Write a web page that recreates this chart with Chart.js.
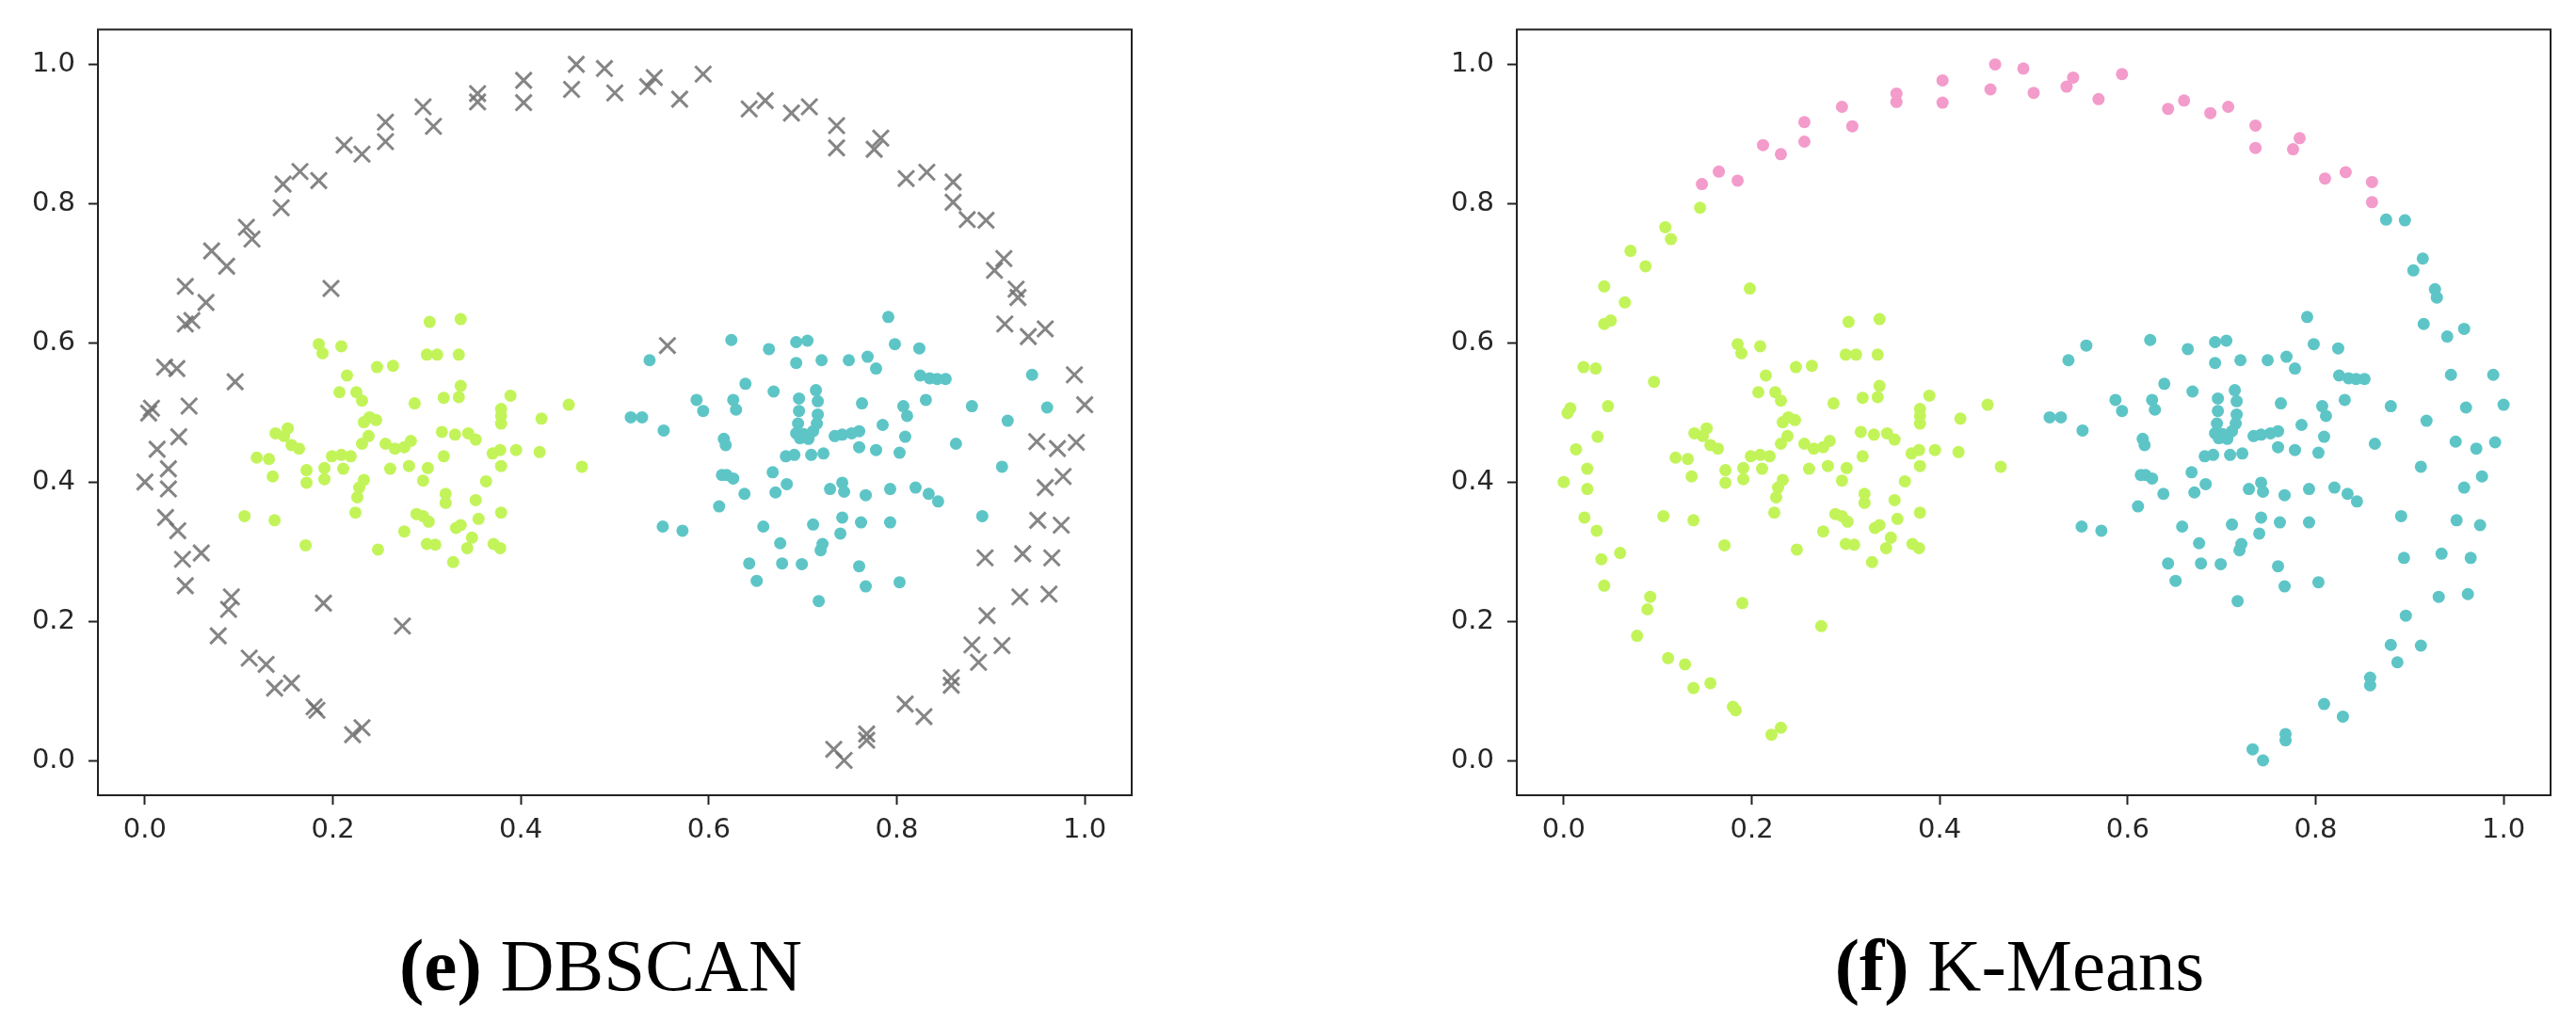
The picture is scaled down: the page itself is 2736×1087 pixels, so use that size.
<!DOCTYPE html>
<html>
<head>
<meta charset="utf-8">
<script src="https://cdn.jsdelivr.net/npm/chart.js@4.4.1/dist/chart.umd.min.js"></script>
<style>
  html, body { margin: 0; background: #fff; overflow: hidden; }
  #page { position: relative; width: 2736px; height: 1087px; }
  .panel { position: absolute; top: 0; }
  .cap {
    position: absolute; top: 986px; transform: translateX(-50%);
    font-family: "Liberation Serif", serif; font-size: 79px; line-height: 79px;
    color: #000; white-space: nowrap;
  }
  .cap b { font-weight: bold; }
</style>
</head>
<body>
<div id="page">
  <canvas id="dbscan" class="panel" width="1229" height="900" style="left:0px"></canvas>
  <canvas id="kmeans" class="panel" width="1229" height="900" style="left:1507px"></canvas>
  <div class="cap" style="left:638px"><b>(e)</b> DBSCAN</div>
  <div class="cap" style="left:2145px"><b>(f)</b> K-Means</div>
</div>
<script>
// tick values
const xTicks = [0.0, 0.2, 0.4, 0.6, 0.8, 1.0];
const yTicks = [0.0, 0.2, 0.4, 0.6, 0.8, 1.0];

// outer ring, left / lower-left part (DBSCAN noise, K-Means green)
const arcLeft = [
  [0.221,0.037],[0.231,0.047],[0.180,0.077],[0.183,0.072],[0.138,0.104],[0.156,0.111],
  [0.111,0.147],[0.129,0.138],[0.078,0.179],[0.092,0.235],[0.089,0.217],[0.043,0.251],
  [0.040,0.289],[0.060,0.298],[0.022,0.349],[0.035,0.330],[0.000,0.400],[0.025,0.419],
  [0.025,0.390],[0.013,0.447],[0.036,0.465],[0.007,0.506],[0.004,0.499],[0.047,0.509],
  [0.096,0.544],[0.021,0.565],[0.034,0.563],[0.043,0.627],[0.050,0.632],[0.065,0.658],
  [0.043,0.681],[0.087,0.710],[0.071,0.732],[0.114,0.749],[0.108,0.766],[0.145,0.794],
  [0.198,0.678],[0.190,0.226],[0.274,0.193]
];

// outer ring, top part (DBSCAN noise, K-Means pink)
const arcTop = [
  [0.147,0.828],[0.165,0.846],[0.185,0.833],[0.212,0.884],[0.231,0.871],[0.256,0.917],
  [0.256,0.889],[0.296,0.939],[0.307,0.911],[0.354,0.958],[0.354,0.946],[0.403,0.977],
  [0.403,0.945],[0.459,1.000],[0.454,0.964],[0.489,0.994],[0.500,0.959],[0.542,0.981],
  [0.535,0.968],[0.569,0.950],[0.594,0.986],[0.643,0.936],[0.660,0.948],[0.688,0.930],
  [0.707,0.939],[0.736,0.912],[0.736,0.880],[0.783,0.894],[0.776,0.878],[0.810,0.836],
  [0.832,0.845],[0.860,0.831],[0.860,0.802]
];

// outer ring, right / lower-right part (DBSCAN noise, K-Means teal)
const arcRight = [
  [0.875,0.777],[0.895,0.776],[0.914,0.721],[0.904,0.704],[0.927,0.677],[0.929,0.665],
  [0.915,0.627],[0.940,0.609],[0.958,0.620],[0.989,0.554],[1.000,0.511],[0.949,0.458],
  [0.971,0.448],[0.991,0.457],[0.958,0.392],[0.977,0.408],[0.950,0.345],[0.975,0.338],
  [0.894,0.291],[0.934,0.297],[0.965,0.291],[0.931,0.235],[0.962,0.239],[0.896,0.208],
  [0.880,0.166],[0.912,0.165],[0.887,0.141],[0.858,0.119],[0.858,0.108],[0.809,0.081],
  [0.829,0.063],[0.768,0.038],[0.768,0.029],[0.733,0.016],[0.744,0.000],[0.556,0.596]
];

// left blob
const blobLeft = [
  [0.303,0.630],[0.336,0.634],[0.185,0.598],[0.189,0.585],[0.209,0.595],[0.300,0.583],
  [0.311,0.583],[0.334,0.583],[0.247,0.565],[0.264,0.567],[0.215,0.553],[0.336,0.538],
  [0.334,0.522],[0.318,0.521],[0.287,0.513],[0.389,0.524],[0.451,0.511],[0.379,0.505],
  [0.379,0.495],[0.379,0.484],[0.422,0.491],[0.207,0.529],[0.225,0.529],[0.231,0.517],
  [0.233,0.486],[0.239,0.493],[0.246,0.489],[0.139,0.470],[0.148,0.466],[0.152,0.477],
  [0.156,0.453],[0.164,0.448],[0.119,0.435],[0.132,0.433],[0.136,0.408],[0.172,0.417],
  [0.172,0.399],[0.191,0.420],[0.191,0.404],[0.199,0.437],[0.209,0.439],[0.219,0.437],
  [0.211,0.419],[0.238,0.466],[0.231,0.455],[0.256,0.455],[0.266,0.448],[0.276,0.450],
  [0.283,0.459],[0.261,0.419],[0.281,0.423],[0.233,0.403],[0.228,0.392],[0.226,0.378],
  [0.224,0.356],[0.296,0.402],[0.301,0.420],[0.316,0.472],[0.318,0.437],[0.320,0.383],
  [0.320,0.370],[0.289,0.354],[0.296,0.351],[0.302,0.343],[0.276,0.329],[0.300,0.311],
  [0.309,0.310],[0.248,0.303],[0.171,0.309],[0.106,0.351],[0.138,0.345],[0.330,0.468],
  [0.344,0.470],[0.352,0.461],[0.370,0.441],[0.378,0.446],[0.395,0.446],[0.420,0.443],
  [0.465,0.422],[0.379,0.423],[0.363,0.401],[0.352,0.374],[0.355,0.347],[0.379,0.356],
  [0.331,0.334],[0.336,0.338],[0.348,0.320],[0.343,0.305],[0.371,0.311],[0.378,0.305],
  [0.328,0.285]
];

// right blob
const blobRight = [
  [0.537,0.575],[0.624,0.604],[0.664,0.591],[0.693,0.601],[0.705,0.603],[0.693,0.571],
  [0.639,0.541],[0.669,0.530],[0.587,0.518],[0.594,0.502],[0.626,0.518],[0.629,0.504],
  [0.517,0.493],[0.529,0.493],[0.696,0.520],[0.696,0.502],[0.791,0.637],[0.798,0.598],
  [0.824,0.592],[0.720,0.575],[0.749,0.575],[0.769,0.580],[0.778,0.563],[0.825,0.553],
  [0.835,0.549],[0.843,0.548],[0.852,0.548],[0.944,0.554],[0.714,0.532],[0.716,0.516],
  [0.716,0.497],[0.763,0.513],[0.807,0.509],[0.811,0.495],[0.831,0.518],[0.880,0.509],
  [0.960,0.507],[0.918,0.488],[0.552,0.474],[0.616,0.462],[0.618,0.453],[0.695,0.484],
  [0.715,0.484],[0.693,0.470],[0.701,0.469],[0.711,0.473],[0.697,0.463],[0.706,0.462],
  [0.734,0.466],[0.742,0.468],[0.752,0.470],[0.760,0.473],[0.760,0.450],[0.785,0.482],
  [0.809,0.465],[0.803,0.442],[0.778,0.446],[0.863,0.455],[0.912,0.422],[0.682,0.437],
  [0.691,0.439],[0.709,0.439],[0.722,0.441],[0.614,0.410],[0.619,0.410],[0.626,0.405],
  [0.668,0.414],[0.683,0.397],[0.671,0.385],[0.638,0.383],[0.611,0.365],[0.729,0.390],
  [0.742,0.399],[0.744,0.386],[0.767,0.381],[0.793,0.390],[0.820,0.392],[0.834,0.383],
  [0.844,0.372],[0.891,0.351],[0.551,0.336],[0.572,0.330],[0.658,0.336],[0.711,0.339],
  [0.742,0.349],[0.740,0.326],[0.762,0.342],[0.793,0.342],[0.676,0.312],[0.721,0.311],
  [0.719,0.302],[0.643,0.283],[0.678,0.283],[0.699,0.282],[0.760,0.279],[0.651,0.258],
  [0.767,0.250],[0.803,0.256],[0.717,0.229]
];

const GREEN = '#c2f45a';
const TEAL = '#5ec5c7';
const PINK = '#f39bcb';
const GREY = 'rgba(112,112,112,0.85)';

const toPts = arr => arr.map(p => ({x: p[0], y: p[1]}));

function dots(points, color) {
  return {
    data: toPts(points),
    pointStyle: 'circle',
    pointRadius: 6.5,
    pointBorderWidth: 0,
    pointBackgroundColor: color,
    pointBorderColor: color
  };
}

function crosses(points) {
  return {
    data: toPts(points),
    pointStyle: 'crossRot',
    pointRadius: 12,
    pointBorderWidth: 3,
    pointBorderColor: GREY,
    pointBackgroundColor: GREY
  };
}

// axes frame on all four sides
const frame = {
  id: 'frame',
  afterDatasetsDraw(chart) {
    const {ctx, chartArea: a} = chart;
    ctx.save();
    ctx.strokeStyle = '#222';
    ctx.lineWidth = 2;
    ctx.strokeRect(a.left, a.top, a.right - a.left, a.bottom - a.top);
    ctx.restore();
  }
};

function axis(ticksArr, fit) {
  return {
    type: 'linear',
    min: -0.05,
    max: 1.05,
    afterFit: fit,
    afterBuildTicks(s) { s.ticks = ticksArr.map(v => ({value: v})); },
    grid: {drawOnChartArea: false, tickLength: 10, tickColor: '#222', tickWidth: 2},
    border: {display: false},
    ticks: {
      padding: 10,
      color: '#262626',
      autoSkip: false,
      maxRotation: 0,
      font: {family: 'DejaVu Sans', size: 29},
      callback: v => Number(v).toFixed(1)
    }
  };
}

function makeChart(id, datasets) {
  const x = axis(xTicks, s => { s.height = 55; });
  const y = axis(yTicks, s => { s.width = 104; });
  y.ticks.padding = 14;
  return new Chart(document.getElementById(id), {
    type: 'scatter',
    data: {datasets: datasets},
    options: {
      responsive: false,
      animation: false,
      devicePixelRatio: 1,
      layout: {padding: {top: 28, right: 27, left: 0, bottom: 0}},
      plugins: {legend: {display: false}, tooltip: {enabled: false}},
      scales: {x: x, y: y}
    },
    plugins: [frame]
  });
}

makeChart('dbscan', [
  crosses(arcLeft.concat(arcTop, arcRight)),
  dots(blobLeft, GREEN),
  dots(blobRight, TEAL)
]);

makeChart('kmeans', [
  dots(blobLeft.concat(arcLeft), GREEN),
  dots(blobRight.concat(arcRight), TEAL),
  dots(arcTop, PINK)
]);
</script>
</body>
</html>
